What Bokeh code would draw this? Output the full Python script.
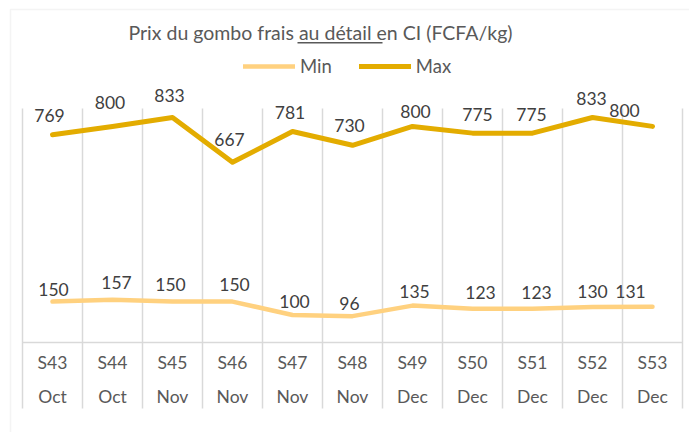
from bokeh.plotting import figure
from bokeh.models import (ColumnDataSource, LinearAxis, Grid, FixedTicker, Range1d,
                          Legend, LegendItem, BoxAnnotation, Label)
from bokeh.core.properties import value
from bokeh.embed import file_html
from bokeh.resources import INLINE

# ---- data ----
weeks = ["S43", "S44", "S45", "S46", "S47", "S48", "S49", "S50", "S51", "S52", "S53"]
months = ["Oct", "Oct", "Nov", "Nov", "Nov", "Nov", "Dec", "Dec", "Dec", "Dec", "Dec"]
max_vals = [769, 800, 833, 667, 781, 730, 800, 775, 775, 833, 800]
min_vals = [150, 157, 150, 150, 100, 96, 135, 123, 123, 130, 131]
title_text = "Prix du gombo frais au détail en CI (FCFA/kg)"
series_names = ["Min", "Max"]

# ---- layout (page pixels) ----
W, H = 689, 432
X_FIRST, STEP = 52.0, 60.0          # centre of first category, category width
Y_ZERO, PPU = 341.5, 0.2695         # pixel row of value 0, pixels per FCFA
PLOT_TOP, PLOT_BOTTOM = 108, 408    # extent of the category separators


def dx(px):
    return (px - X_FIRST) / STEP


def dy(py):
    return (Y_ZERO - py) / PPU


# ---- styles ----
MAX_COLOR = "#E3AC00"
MIN_COLOR = "#FFD17F"
GRID_COLOR = "#D9D9D9"
LABEL_COLOR = "#404040"
AXIS_COLOR = "#595959"
FONT = "Lato"
# data-label offsets in pixels (as placed in the original chart)
max_dx = [-3, -2.5, -3, -3, -2.5, -3, 3, 5, -1, -1, -28]
max_dy = [-19.5, -23.5, -22.5, -22.5, -19.5, -19.5, -14.5, -19, -19, -19, -15.5]
min_dx = [1, 4, -2, 2, 2, -3, 2, 8, 4, 0, -22]
min_dy = [-12.5, -17, -17, -17, -13.5, -13, -14.5, -16, -16, -15.5, -15]

pos = list(range(len(weeks)))
src = ColumnDataSource(dict(
    pos=pos, mx=max_vals, mn=min_vals,
    mx_lbl=[str(v) for v in max_vals], mn_lbl=[str(v) for v in min_vals],
    mx_dx=max_dx, mx_dy=max_dy, mn_dx=min_dx, mn_dy=min_dy,
))

p = figure(x_range=Range1d(dx(0), dx(W)), y_range=Range1d(dy(H), dy(0)),
           width=W, height=H, output_backend="svg", toolbar_location=None,
           x_axis_location=None, y_axis_location=None,
           min_border_left=0, min_border_right=0, min_border_top=0, min_border_bottom=0)
p.title = None
p.outline_line_color = None
p.border_fill_color = "white"
p.background_fill_color = "white"
p.xgrid.visible = False
p.ygrid.visible = False

# outer chart border (left and top edges visible)
p.add_layout(BoxAnnotation(left=dx(10), right=dx(W + 20), top=dy(9), bottom=dy(H + 20),
                           fill_alpha=0, line_color=GRID_COLOR, line_width=1.5))

# category separators
boundaries = [i - 0.5 for i in range(len(weeks) + 1)]
sep = Grid(dimension=0, ticker=FixedTicker(ticks=boundaries),
           grid_line_color=GRID_COLOR, grid_line_width=1.5)
if "cross_bounds" in Grid.properties():
    sep.cross_bounds = (dy(PLOT_BOTTOM), dy(PLOT_TOP))
p.add_layout(sep, "center")

# category axes crossing at value 0
ax1 = LinearAxis(fixed_location=0, ticker=FixedTicker(ticks=pos),
                 bounds=(boundaries[0], boundaries[-1]),
                 major_label_overrides={i: w for i, w in zip(pos, weeks)},
                 axis_line_color=GRID_COLOR, axis_line_width=1.5,
                 major_tick_line_color=None, minor_tick_line_color=None,
                 major_tick_in=0, major_tick_out=0, major_label_standoff=10,
                 major_label_text_font=FONT, major_label_text_font_size="17.5px",
                 major_label_text_color=AXIS_COLOR)
ax2 = LinearAxis(fixed_location=0, ticker=FixedTicker(ticks=pos),
                 major_label_overrides={i: m for i, m in zip(pos, months)},
                 axis_line_color=None,
                 major_tick_line_color=None, minor_tick_line_color=None,
                 major_tick_in=0, major_tick_out=0, major_label_standoff=44,
                 major_label_text_font=FONT, major_label_text_font_size="17.5px",
                 major_label_text_color=AXIS_COLOR)
p.add_layout(ax1, "below")
p.add_layout(ax2, "below")

r_min = p.line("pos", "mn", source=src, line_color=MIN_COLOR, line_width=4.5,
               line_join="round", line_cap="round")
r_max = p.line("pos", "mx", source=src, line_color=MAX_COLOR, line_width=5,
               line_join="round", line_cap="round")

p.text("pos", "mx", text="mx_lbl", source=src, x_offset="mx_dx", y_offset="mx_dy",
       text_align="center", text_baseline="middle", text_font=value(FONT),
       text_font_size="17.5px", text_color=LABEL_COLOR)
p.text("pos", "mn", text="mn_lbl", source=src, x_offset="mn_dx", y_offset="mn_dy",
       text_align="center", text_baseline="middle", text_font=value(FONT),
       text_font_size="17.5px", text_color=LABEL_COLOR)

# title and its underlined part
p.add_layout(Label(x=dx(320), y=dy(32), text=title_text, text_align="center",
                   text_baseline="middle", text_font=FONT, text_font_size="19.5px",
                   text_color=AXIS_COLOR))
p.add_layout(BoxAnnotation(left=dx(297), right=dx(382), top=dy(41.5), bottom=dy(43),
                           fill_color=AXIS_COLOR, fill_alpha=1, line_color=None))

legend = Legend(items=[LegendItem(label=series_names[0], renderers=[r_min]),
                       LegendItem(label=series_names[1], renderers=[r_max])],
                orientation="horizontal", location=(243, H - 77),
                glyph_width=52, glyph_height=20, label_standoff=5, spacing=27,
                padding=0, margin=0, border_line_color=None, background_fill_alpha=0,
                label_text_font=FONT, label_text_font_size="18.5px",
                label_text_color=AXIS_COLOR, label_height=20)
p.add_layout(legend, "center")

open("out.html", "w").write(file_html(p, INLINE))
